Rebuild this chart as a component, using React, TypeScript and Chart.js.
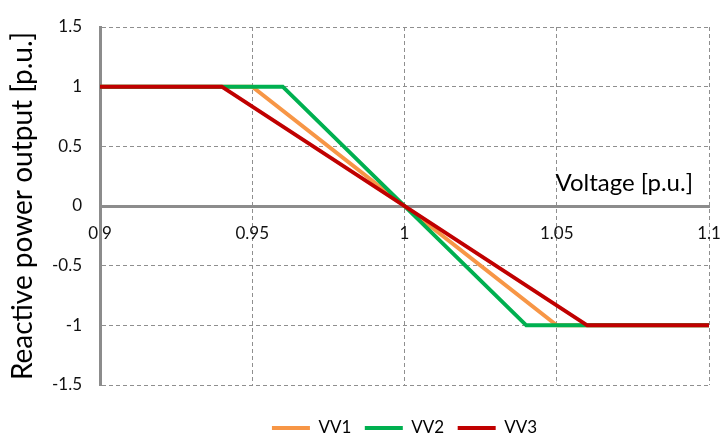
import React, { useEffect, useRef } from "react";
import { Chart, registerables } from "chart.js";

Chart.register(...registerables);

// ---- data ----
const seriesNames = ["VV1", "VV2", "VV3"];
const vv1Voltage = [0.9, 0.95, 1.05, 1.1];
const vv1Reactive = [1, 1, -1, -1];
const vv2Voltage = [0.9, 0.96, 1.04, 1.1];
const vv2Reactive = [1, 1, -1, -1];
const vv3Voltage = [0.9, 0.94, 1.06, 1.1];
const vv3Reactive = [1, 1, -1, -1];
const voltageTicks = [0.9, 0.95, 1, 1.05, 1.1];
const reactiveTicks = [-1.5, -1, -0.5, 0, 0.5, 1, 1.5];
const xTitle = "Voltage [p.u.]";
const yTitle = "Reactive power output [p.u.]";

const colors = ["#F79646", "#00B050", "#C00000"];

const toPoints = (xs: number[], ys: number[]) => xs.map((x, i) => ({ x, y: ys[i] }));

const xTitlePlugin = {
  id: "xTitleInside",
  afterDraw(chart: any) {
    const { ctx, chartArea, scales } = chart;
    const y0 = scales.y.getPixelForValue(0);
    ctx.save();
    ctx.font = "24px Lato";
    ctx.fillStyle = "#000";
    ctx.textAlign = "right";
    ctx.textBaseline = "alphabetic";
    ctx.fillText(xTitle, chartArea.right - 16, y0 - 15);
    ctx.restore();
  },
};

export default function App() {
  const ref = useRef<HTMLCanvasElement | null>(null);
  useEffect(() => {
    document.body.style.margin = "0";
    if (!ref.current) return;
    Chart.defaults.font.family = "Lato";
    const series = [
      toPoints(vv1Voltage, vv1Reactive),
      toPoints(vv2Voltage, vv2Reactive),
      toPoints(vv3Voltage, vv3Reactive),
    ];
    const chart = new Chart(ref.current, {
      type: "scatter",
      data: {
        datasets: series.map((data, i) => ({
          label: seriesNames[i],
          data,
          showLine: true,
          borderColor: colors[i],
          backgroundColor: colors[i],
          borderWidth: 4,
          pointRadius: 0,
          pointHoverRadius: 0,
          fill: false,
          order: 3 - i,
        })),
      },
      options: {
        animation: false,
        responsive: false,
        devicePixelRatio: 1,
        layout: { padding: { top: 27, right: 11, left: 0, bottom: 0 } },
        plugins: {
          tooltip: { enabled: false },
          legend: {
            position: "bottom",
            fullSize: false,
            maxHeight: 52,
            title: { display: true, text: "", font: { size: 10, lineHeight: 1 }, padding: { top: 11, bottom: 0 } },
            labels: {
              boxWidth: 38,
              boxHeight: 4,
              padding: 13.5,
              color: "#000",
              font: { size: 17, family: "Lato" },
              sort: (a: any, b: any) => a.datasetIndex - b.datasetIndex,
              generateLabels: (c: any) => {
                const items = Chart.defaults.plugins.legend.labels.generateLabels(c);
                return items.map((it: any) => ({
                  ...it,
                  lineWidth: 0,
                  fillStyle: colors[it.datasetIndex],
                  strokeStyle: colors[it.datasetIndex],
                }));
              },
            },
          },
        },
        scales: {
          x: {
            type: "linear",
            position: { y: 0 } as any,
            min: 0.9,
            max: 1.1,
            afterBuildTicks: (s: any) => {
              s.ticks = voltageTicks.map((v) => ({ value: v }));
            },
            afterFit: (s: any) => {
              s.paddingLeft = 0;
              s.paddingRight = 0;
            },
            ticks: {
              color: "#111",
              font: { size: 17 },
              padding: 17,
              maxRotation: 0,
              autoSkip: false,
              callback: (v: any) => String(v),
            },
            grid: {
              drawTicks: false,
              color: (ctx: any) => (ctx.tick && ctx.tick.value === 0.9 ? "rgba(0,0,0,0)" : "#8f8f8f"),
              lineWidth: 1,
            },
            border: { display: true, color: "#8c8c8c", width: 3, dash: [4, 3] },
          },
          y: {
            type: "linear",
            position: "left",
            min: -1.5,
            max: 1.5,
            afterBuildTicks: (s: any) => {
              s.ticks = reactiveTicks.map((v) => ({ value: v }));
            },
            afterFit: (s: any) => {
              s.width = 100;
              s.paddingTop = 0;
              s.paddingBottom = 0;
            },
            ticks: {
              color: "#111",
              font: { size: 17 },
              padding: 18,
              autoSkip: false,
              callback: (v: any) => String(v),
            },
            grid: {
              drawTicks: false,
              color: (ctx: any) => (ctx.tick && ctx.tick.value === 0 ? "rgba(0,0,0,0)" : "#8f8f8f"),
              lineWidth: 1,
            },
            border: { display: true, color: "#8c8c8c", width: 3, dash: [4, 3] },
            title: {
              display: true,
              text: yTitle,
              color: "#000",
              font: { size: 28, family: "Lato" },
              padding: { top: 6, bottom: 0 },
            },
          },
        },
      } as any,
      plugins: [xTitlePlugin],
    });
    return () => chart.destroy();
  }, []);
  return (
    <div style={{ width: 720, height: 437 }}>
      <canvas ref={ref} width={720} height={437} />
    </div>
  );
}
